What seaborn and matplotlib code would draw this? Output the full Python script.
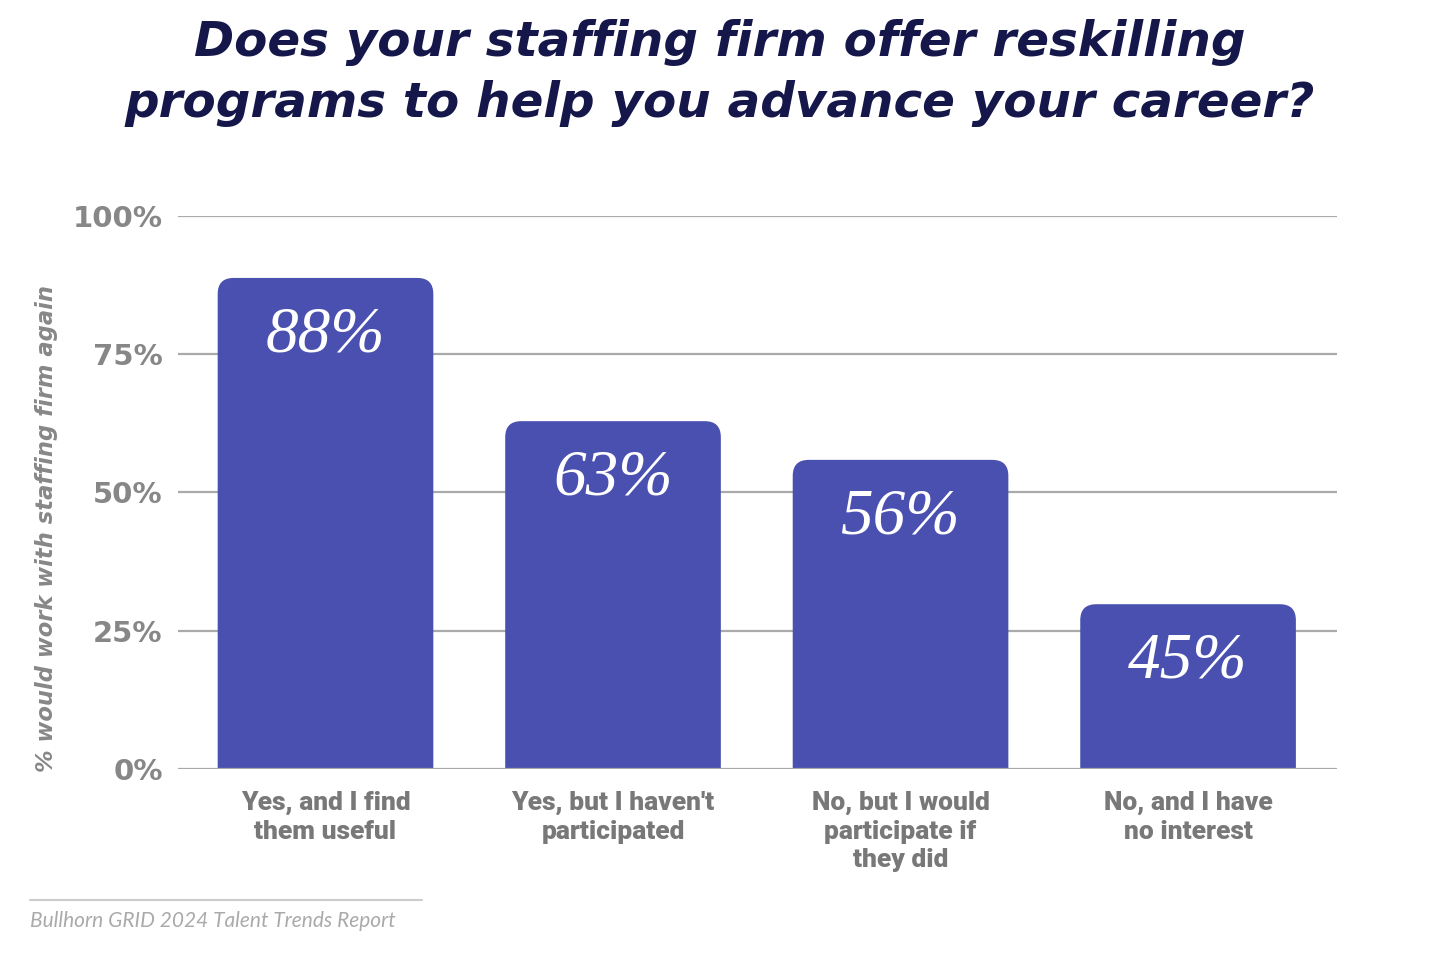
import matplotlib
matplotlib.use("Agg")
import matplotlib.pyplot as plt
import seaborn as sns
import pandas as pd
from matplotlib.patches import FancyBboxPatch
from matplotlib.lines import Line2D

categories = ["Yes, and I find\nthem useful", "Yes, but I haven't\nparticipated",
              "No, but I would\nparticipate if\nthey did", "No, and I have\nno interest"]
bar_heights = [88.8, 62.9, 55.9, 29.8]
value_labels = ["88%", "63%", "56%", "45%"]
y_ticks = [0, 25, 50, 75, 100]
y_tick_labels = ["0%", "25%", "50%", "75%", "100%"]

sns.set_theme(style="white")
plt.rcParams['font.family'] = ['DejaVu Sans']

df = pd.DataFrame({"cat": categories, "val": bar_heights})

fig = plt.figure(figsize=(14.4, 9.56), dpi=100)
ax = fig.add_axes([178/1440, 1-769/956, (1337-178)/1440, (769-216)/956])

bar_color = "#4A50AF"
sns.barplot(data=df, x="cat", y="val", color=bar_color, width=0.75, ax=ax,
            saturation=1, zorder=2)
ax.set_xlim(-0.513, 3.518)
ax.set_ylim(0, 100)

# replace rectangles with rounded-top bars
r_x = 16/287.6
aspect = (553/100) / 287.6
for p in list(ax.patches):
    x0, w, h = p.get_x(), p.get_width(), p.get_height()
    p.set_visible(False)
    fb = FancyBboxPatch((x0, -10), w, h + 10,
                        boxstyle=f"round,pad=0,rounding_size={r_x}",
                        mutation_aspect=1/aspect, facecolor=bar_color,
                        edgecolor="none", zorder=2, clip_on=True)
    ax.add_patch(fb)

for i, (h, lab) in enumerate(zip(bar_heights, value_labels)):
    ax.text(i, h - 5.0, lab, ha="center", va="top", color="white",
            fontsize=47, fontstyle="italic", family=["Liberation Serif", "DejaVu Serif"],
            zorder=4)

for t in y_ticks:
    ax.axhline(t, color="#aaaaaa", lw=1.6, zorder=1 if t else 3)

ax.set_yticks(y_ticks)
ax.set_yticklabels(y_tick_labels, fontsize=21, fontweight="bold", color="#878787")
ax.tick_params(axis="y", pad=11, length=0)
ax.tick_params(axis="x", pad=16, length=0)
for lab in ax.get_xticklabels():
    lab.set_fontsize(19)
    lab.set_fontweight("heavy")
    lab.set_color("#787878")
    lab.set_family(["Roboto", "DejaVu Sans"])
    lab.set_linespacing(1.22)
ax.set_xlabel("")
ax.set_ylabel("")
for s in ax.spines.values():
    s.set_visible(False)
ax.grid(False)

fig.text(47/1440, 1-528/956, "% would work with staffing firm again", rotation=90,
         ha="center", va="center", fontsize=16.3, fontweight="bold", fontstyle="italic",
         color="#878787")

fig.text(720/1440, 1-73/956,
         "Does your staffing firm offer reskilling\nprograms to help you advance your career?",
         ha="center", va="center", fontsize=34.8, fontweight="bold", fontstyle="italic",
         color="#15174A", linespacing=1.38)

fig.add_artist(Line2D([30/1440, 422/1440], [1-900/956, 1-900/956], color="#cccccc", lw=1.5))
fig.text(30/1440, 1-921/956, "Bullhorn GRID 2024 Talent Trends Report", ha="left", va="center",
         fontsize=15, fontstyle="italic", color="#aaaaaa", family=["Lato", "DejaVu Sans"])

fig.savefig("out.png", dpi=100, facecolor="white")
